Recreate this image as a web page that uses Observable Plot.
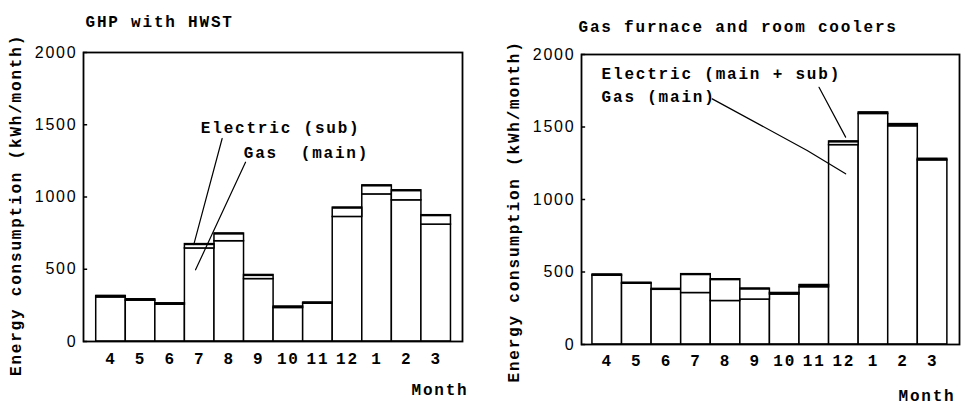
<!DOCTYPE html>
<html>
<head>
<meta charset="utf-8">
<script src="https://cdn.jsdelivr.net/npm/d3@7"></script>
<script src="https://cdn.jsdelivr.net/npm/@observablehq/plot@0.6"></script>
<style>
  html, body { margin: 0; padding: 0; background: #fff; }
  #wrap { position: relative; width: 965px; height: 416px; overflow: hidden; }
  #wrap svg { position: absolute; top: 0; overflow: visible; }
  #wrap svg text { letter-spacing: 1.8px; }
</style>
</head>
<body>
<div id="wrap"></div>
<script>
// ---- data ----
const months = ["4","5","6","7","8","9","10","11","12","1","2","3"];
const yTicks = [0, 500, 1000, 1500, 2000];

// Left panel: GHP with HWST (kWh/month)
const ghpGasMain     = [305, 283, 255, 644, 694, 432, 232, 262, 862, 1018, 977, 809];
const ghpElectricSub = [ 10,   9,   9,  30,  53,  28,   9,   7,  64,   62,  69,  65];

// Right panel: Gas furnace and room coolers (kWh/month)
const gfGasMain         = [475, 420, 378, 355, 300, 310, 345, 395, 1375, 1590, 1505, 1270];
const gfElectricMainSub = [  7,   5,   5, 130, 150,  75,  10,  15,   25,   10,   15,   10];

const leftTitle  = "GHP with HWST";
const rightTitle = "Gas furnace and room coolers";
const yLabel = "Energy consumption (kWh/month)";
const xLabel = "Month";

// annotation leaders, in data units (x = bar index units, y = kWh/month)
const leftAnno = [
  {text: "Electric (sub)", x: 3.54, y: 1481, line: [[4.26, 1405], [3.30, 671]]},
  {text: "Gas  (main)",    x: 4.99, y: 1308, line: [[5.05, 1241], [3.36, 496]]}
];
const rightAnno = [
  {text: "Electric (main + sub)", x: 0.31, y: 1867, line: [[7.66, 1774], [8.56, 1430]]},
  {text: "Gas (main)",            x: 0.31, y: 1706, line: [[4.05, 1694], [7.26, 1338], [8.56, 1177]]}
];

function panel(cfg) {
  const rows = months.map((m, i) => ({
    i, month: m, gas: cfg.gas[i], total: cfg.gas[i] + cfg.elec[i]
  }));
  const x0 = cfg.xDomain[0];
  const marks = [
    Plot.rect(rows, {x1: "i", x2: d => d.i + 1, y1: 0, y2: "gas",
      fill: "white", stroke: "black", strokeWidth: 1.5}),
    Plot.rect(rows, {x1: "i", x2: d => d.i + 1, y1: "gas", y2: "total",
      fill: "white", stroke: "black", strokeWidth: 1.5}),
    Plot.ruleY(rows, {x1: "i", x2: d => d.i + 1, y: "total", stroke: "black", strokeWidth: 2.2}),
    Plot.frame({stroke: "black", strokeWidth: 1.8}),
    Plot.ruleY(yTicks, {x1: x0, x2: x0 + 0.14, stroke: "black", strokeWidth: 1.5}),
    Plot.axisY(yTicks, {tickSize: 0, tickPadding: 6, fontSize: 16,
      fontFamily: "Liberation Sans", label: null, tickFormat: d => String(d)}),
    Plot.text(rows, {x: d => d.i + 0.5, y: 0, text: "month", dy: cfg.monthDy, fontSize: 16, fontWeight: "bold"}),
    Plot.text([cfg.title], {frameAnchor: "top-left", text: d => d, textAnchor: "start",
      dx: cfg.titleDx, dy: cfg.titleDy, fontSize: 16, fontWeight: "bold"}),
    Plot.text([yLabel], {frameAnchor: "left", text: d => d, rotate: -90, textAnchor: "middle",
      dx: cfg.yLabDx, dy: cfg.yLabDy, fontSize: 16, fontWeight: "bold"}),
    Plot.text([xLabel], {frameAnchor: "bottom-right", text: d => d, textAnchor: "end",
      dx: cfg.xLabDx, dy: cfg.xLabDy, fontSize: 16, fontWeight: "bold"})
  ];
  for (const a of cfg.anno) {
    marks.push(Plot.line(a.line, {x: d => d[0], y: d => d[1], stroke: "black", strokeWidth: 1.2}));
    marks.push(Plot.text([a], {x: "x", y: "y", text: "text", textAnchor: "start", fontSize: 16, fontWeight: "bold"}));
  }
  const svg = Plot.plot({
    width: cfg.width, height: 416,
    marginLeft: cfg.ml, marginRight: cfg.mr, marginTop: cfg.mt, marginBottom: cfg.mb,
    x: {domain: cfg.xDomain, axis: null},
    y: {domain: [0, 2000], axis: null},
    style: {fontFamily: "Liberation Mono", background: "transparent", color: "black", overflow: "visible"},
    marks
  });
  svg.style.left = cfg.left + "px";
  return svg;
}

const wrap = document.getElementById("wrap");
wrap.appendChild(panel({
  left: 0, width: 482, ml: 83, mr: 20, mt: 52, mb: 75,
  xDomain: [-0.43, 12.39],
  gas: ghpGasMain, elec: ghpElectricSub, anno: leftAnno,
  title: leftTitle, titleDx: 2, titleDy: -37,
  yLabDx: -68, yLabDy: 8, xLabDx: 6, xLabDy: 53, monthDy: 17
}));
wrap.appendChild(panel({
  left: 482, width: 483, ml: 99, mr: 6, mt: 54, mb: 72,
  xDomain: [-0.37, 12.41],
  gas: gfGasMain, elec: gfElectricMainSub, anno: rightAnno,
  title: rightTitle, titleDx: -3, titleDy: -34,
  yLabDx: -68, yLabDy: 12, xLabDx: -4, xLabDy: 56, monthDy: 16
}));
</script>
</body>
</html>
